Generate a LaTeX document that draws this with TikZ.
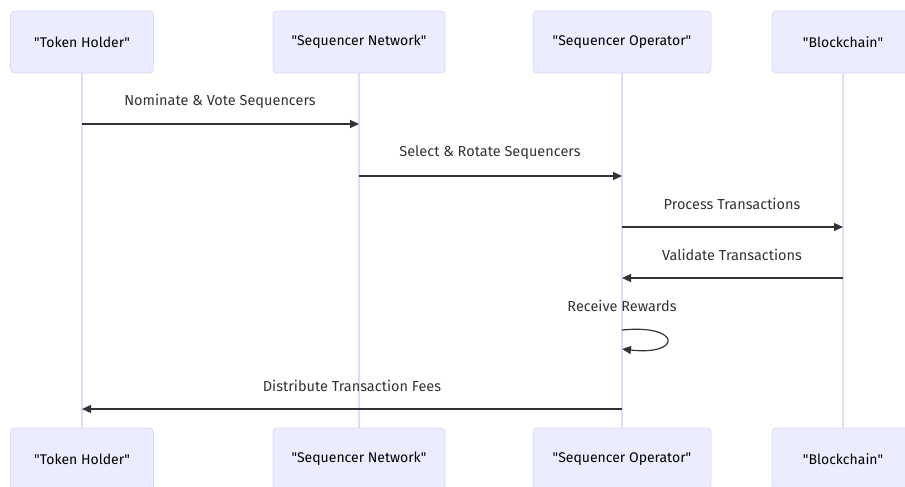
\documentclass[tikz,border=0pt]{standalone}
\usepackage{fontspec}
\setmainfont{Fira Sans}[Ligatures=TeXOff]
\usetikzlibrary{arrows.meta}
\definecolor{actorfill}{HTML}{ECECFF}
\definecolor{actorline}{HTML}{DFDAF6}
\definecolor{lifeline}{HTML}{E2DAF8}
\definecolor{ink}{HTML}{333333}
\tikzset{
  x=1pt, y=-1pt,
  actor/.style={draw=actorline, line width=0.8pt, fill=actorfill, rounded corners=4pt,
    minimum height=62pt, text=black, font=\fontsize{14}{16}\selectfont, inner sep=0pt},
  life/.style={draw=lifeline, line width=1.6pt},
  msg/.style={draw=ink, line width=1.2pt, -{Triangle[length=9pt,width=8pt]}},
  msglabel/.style={text=ink, font=\fontsize{14.5}{16}\selectfont}
}
\begin{document}
\begin{tikzpicture}
\useasboundingbox (0,0) rectangle (905,487);
\begin{scope}
\clip (0,0) rectangle (905,487);
% participants, top row
\node[actor, minimum width=143pt] (th) at (82,42) {"Token Holder"};
\node[actor, minimum width=172pt] (sn) at (359,42) {"Sequencer Network"};
\node[actor, minimum width=178pt] (so) at (622,42) {"Sequencer Operator"};
\node[actor, minimum width=142pt] (bc) at (843,42) {"Blockchain"};
% participants, bottom row
\node[actor, minimum width=143pt] (thb) at (82,459) {"Token Holder"};
\node[actor, minimum width=172pt] (snb) at (359,459) {"Sequencer Network"};
\node[actor, minimum width=178pt] (sob) at (622,459) {"Sequencer Operator"};
\node[actor, minimum width=142pt] (bcb) at (843,459) {"Blockchain"};
\end{scope}
% lifelines
\draw[life] (th.south) -- (thb.north);
\draw[life] (sn.south) -- (snb.north);
\draw[life] (so.south) -- (sob.north);
\draw[life] (bc.south) -- (bcb.north);
% message anchor points on the lifelines
\coordinate (a1) at (82,124);  \coordinate (b1) at (359,124);
\coordinate (a2) at (359,176); \coordinate (b2) at (622,176);
\coordinate (a3) at (622,227); \coordinate (b3) at (843,227);
\coordinate (a4) at (843,278); \coordinate (b4) at (622,278);
\coordinate (a5) at (622,330); \coordinate (b5) at (622,349);
\coordinate (a6) at (622,409); \coordinate (b6) at (82,409);
% messages
\draw[msg] (a1) -- (b1);
\node[msglabel] (l1) at (220,101) {Nominate \& Vote Sequencers};
\draw[msg] (a2) -- (b2);
\node[msglabel] (l2) at (490,153) {Select \& Rotate Sequencers};
\draw[msg] (a3) -- (b3);
\node[msglabel] (l3) at (732,204) {Process Transactions};
\draw[msg] (a4) -- (b4);
\node[msglabel] (l4) at (732,255) {Validate Transactions};
\node[msglabel] (l5) at (622,306) {Receive Rewards};
\draw[msg] (a5) .. controls (682,324) and (682,356) .. (b5);
\draw[msg] (a6) -- (b6);
\node[msglabel] (l6) at (352,386) {Distribute Transaction Fees};
\end{tikzpicture}
\end{document}
